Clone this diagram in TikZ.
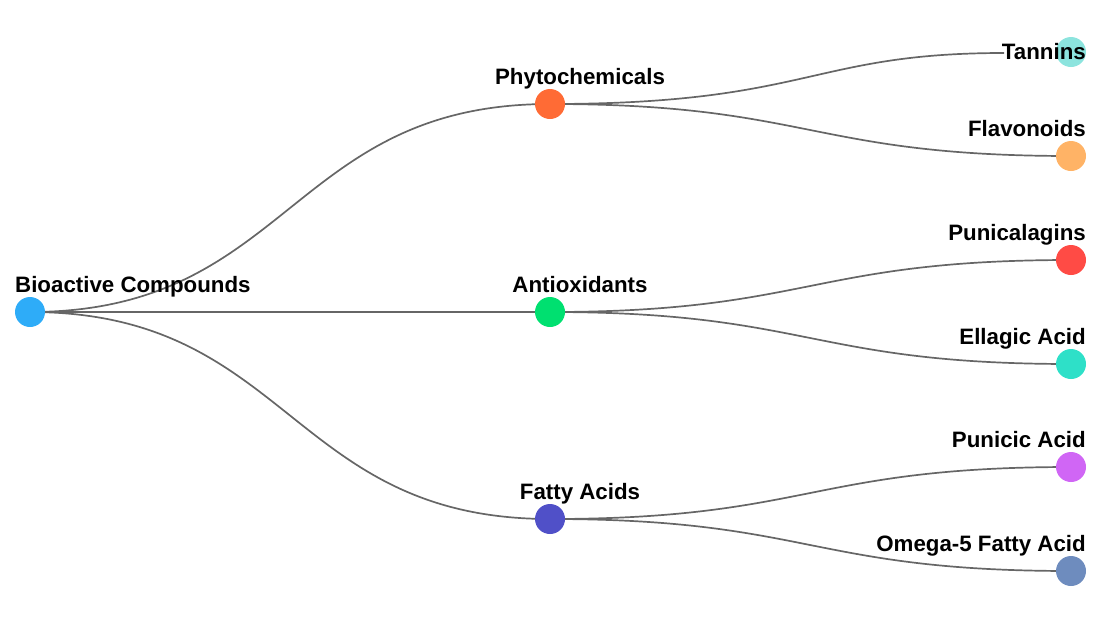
\documentclass[tikz,border=0pt]{standalone}
\usepackage{fontspec}
\setmainfont{Liberation Sans}
\begin{document}
\begin{tikzpicture}[x=1pt,y=-1pt,
  dot/.style={circle,inner sep=0pt,minimum size=30pt,draw=none},
  lbl/.style={font=\bfseries\fontsize{22.3}{26}\selectfont,text=black,inner sep=0pt,anchor=base},
  lblr/.style={lbl,anchor=base east},
  lblc/.style={lbl,anchor=base},
  lbll/.style={lbl,anchor=base west},
  link/.style={draw=black!60,line width=1.7pt}]
\useasboundingbox (0,0) rectangle (1102,622);
\definecolor{cRoot}{HTML}{2EACF8}
\definecolor{cPhy}{HTML}{FF6B35}
\definecolor{cAnt}{HTML}{00E070}
\definecolor{cFat}{HTML}{5050C8}
\definecolor{cTan}{HTML}{8CE4DE}
\definecolor{cFla}{HTML}{FFB366}
\definecolor{cPun}{HTML}{FF4B45}
\definecolor{cEll}{HTML}{2EE0C8}
\definecolor{cPuc}{HTML}{D066F5}
\definecolor{cOme}{HTML}{6E8CBE}
% positions
\coordinate (root) at (30,312);
\coordinate (phy) at (550,104);
\coordinate (ant) at (550,312);
\coordinate (fat) at (550,519);
\coordinate (tan) at (1071,52);
\coordinate (fla) at (1071,156);
\coordinate (pun) at (1071,260);
\coordinate (ell) at (1071,364);
\coordinate (puc) at (1071,467);
\coordinate (ome) at (1071,571);
\coordinate (tanend) at (1004,53);
% links
\draw[link] (root) .. controls (290,312) and (290,104) .. (phy);
\draw[link] (root) -- (ant);
\draw[link] (root) .. controls (290,312) and (290,519) .. (fat);
\draw[link] (phy) .. controls (810,104) and (810,53) .. (tanend);
\draw[link] (phy) .. controls (810,104) and (810,156) .. (fla);
\draw[link] (ant) .. controls (810,312) and (810,260) .. (pun);
\draw[link] (ant) .. controls (810,312) and (810,364) .. (ell);
\draw[link] (fat) .. controls (810,519) and (810,467) .. (puc);
\draw[link] (fat) .. controls (810,519) and (810,571) .. (ome);
% dots
\node[dot,fill=cRoot] (nroot) at (root) {};
\node[dot,fill=cPhy] (nphy) at (phy) {};
\node[dot,fill=cAnt] (nant) at (ant) {};
\node[dot,fill=cFat] (nfat) at (fat) {};
\node[dot,fill=cTan] (ntan) at (tan) {};
\node[dot,fill=cFla] (nfla) at (fla) {};
\node[dot,fill=cPun] (npun) at (pun) {};
\node[dot,fill=cEll] (nell) at (ell) {};
\node[dot,fill=cPuc] (npuc) at (puc) {};
\node[dot,fill=cOme] (nome) at (ome) {};
% labels
\node[lbll] (lroot) at (15,292) {Bioactive Compounds};
\node[lblc] (lphy) at (580,84) {Phytochemicals};
\node[lblc] (lant) at (580,292) {Antioxidants};
\node[lblc] (lfat) at (580,499) {Fatty Acids};
\node[lblr] (ltan) at (1086,59) {Tannins};
\node[lblr] (lfla) at (1086,136) {Flavonoids};
\node[lblr] (lpun) at (1086,240) {Punicalagins};
\node[lblr] (lell) at (1086,344) {Ellagic Acid};
\node[lblr] (lpuc) at (1086,447) {Punicic Acid};
\node[lblr] (lome) at (1086,551) {Omega-5 Fatty Acid};
\end{tikzpicture}
\end{document}
